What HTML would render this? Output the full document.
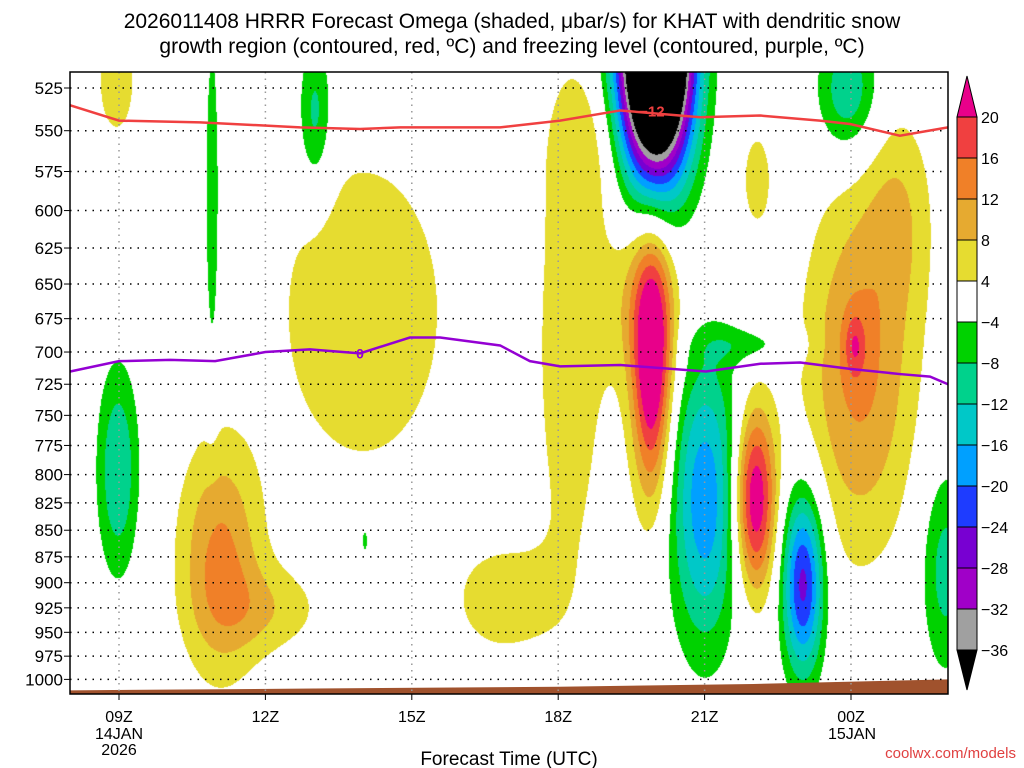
<!DOCTYPE html>
<html><head><meta charset="utf-8"><style>
body{margin:0;background:#fff;width:1024px;height:768px;overflow:hidden;font-family:"Liberation Sans",sans-serif;}
#wrap{position:relative;width:1024px;height:768px;}
canvas{position:absolute;left:70px;top:72px;}
svg{position:absolute;left:0;top:0;}
</style></head><body>
<div id="wrap">
<canvas id="cv" width="878" height="622"></canvas>
<svg id="sv" width="1024" height="768"></svg>
</div>
<script>
// ---- data ----
const pressureTicks=[525,550,575,600,625,650,675,700,725,750,775,800,825,850,875,900,925,950,975,1000];
const timeTickHours=[0,3,6,9,12,15];
const timeTickLabels=["09Z","12Z","15Z","18Z","21Z","00Z"];
const levels=[-36,-32,-28,-24,-20,-16,-12,-8,-4,4,8,12,16,20];
const levelColors=["#000000","#a0a0a0","#a000c8","#7800d2","#1e3cff","#00a0ff","#00c8c8","#00d28c","#00d200","#ffffff","#e6dc30","#e6aa30","#f08028","#f04040","#e8008a"];
// omega blobs: center hour (from 09Z), center pressure (hPa), spread hours, spread ln(p), amplitude (microbar/s)
const blobHour=[-0.05,2.07,3.09,5.0,7.81,9.24,10.92,13.07,13.03,15.18,15.08,16.0,11.0,1.91,4.02,-0.02,5.04,12.01,14.02,14.94,16.93,12.93,10.8,9.6];
const blobP=[522,877,927,670,917,700,713,580,822,713,695,600,500,593,541,796,859,822,900,527,887,695,660,560];
const blobSH=[0.4,0.6,0.8,1.3,0.8,0.6,0.28,0.25,0.3,0.8,0.15,0.5,0.52,0.1,0.25,0.3,0.08,0.5,0.3,0.45,0.35,0.7,0.6,0.5];
const blobSL=[0.06,0.09,0.035,0.13,0.05,0.22,0.1,0.045,0.07,0.14,0.025,0.08,0.1,0.13,0.06,0.08,0.018,0.11,0.07,0.05,0.08,0.015,0.07,0.06];
const blobAmp=[5.5,13,6,7.9,6,6,25,6,25,13,8,6,-80,-8,-10,-12,-6,-19,-26,-12,-10,-6,8,5];
const redHours=[-1.0,0,1.66,3.71,4.94,5.76,7.81,9.04,10.27,11.91,13.14,14.36,14.98,16.0,16.99];
const redP=[535,544,545,548,549,548,548,544,538,542,541,544,546,553,548];
const purHours=[-1,0,1.05,1.97,3.0,3.91,4.94,5.96,6.58,7.81,8.42,9.04,10.27,12.03,13.14,13.96,14.98,16.0,16.62,16.99];
const purP=[715,707,706,707,700,698,701,689,689,695,707,711,710,715,709,708,713,717,719,725];
const groundHours=[-1.0,4,9,13,17];
const groundP=[1012,1010,1008,1005,1000];
// ---- axes ----
const X0=70,X1=948,Y0=72,Y1=694;
const xOf=h=>119+48.8*h;
const yOf=p=>88+917.8*(Math.log(p)-Math.log(525));
const hOfX=x=>(x-119)/48.8;
const lnpOfY=y=>(y-88)/917.8+Math.log(525);
function hex(c){return [parseInt(c.substr(1,2),16),parseInt(c.substr(3,2),16),parseInt(c.substr(5,2),16)];}
const rgb=levelColors.map(hex);
const cv=document.getElementById('cv');const ctx=cv.getContext('2d');
const W=878,H=622;const img=ctx.createImageData(W,H);
const bl=blobP.map(Math.log);
for(let j=0;j<H;j++){const lp=lnpOfY(Y0+j+0.5);
 for(let i=0;i<W;i++){const h=hOfX(X0+i+0.5);let v=0;
  for(let k=0;k<blobAmp.length;k++){const dx=(h-blobHour[k])/blobSH[k],dy=(lp-bl[k])/blobSL[k];const e=(dx*dx+dy*dy)/2;if(e<12)v+=blobAmp[k]*Math.exp(-e);}
  let idx=0;while(idx<levels.length&&v>=levels[idx])idx++;
  const c=rgb[idx];const o=(j*W+i)*4;img.data[o]=c[0];img.data[o+1]=c[1];img.data[o+2]=c[2];img.data[o+3]=255;}}
ctx.putImageData(img,0,0);
const NS="http://www.w3.org/2000/svg";const sv=document.getElementById('sv');
function mk(t,a,p){const e=document.createElementNS(NS,t);for(const k in a)e.setAttribute(k,a[k]);(p||sv).appendChild(e);return e;}
// ground
let gp=`M${X0},${Y1}`;groundHours.forEach((h,i)=>{gp+=` L${Math.max(X0,Math.min(X1,xOf(h)))},${Math.min(Y1,yOf(groundP[i]))}`;});gp+=` L${X1},${Y1} Z`;
const g=mk('path',{d:gp,fill:'#a0522d'});


// grid
pressureTicks.forEach(p=>{const y=yOf(p);
 const l=mk('line',{x1:X0,x2:X1,y1:y,y2:y,stroke:'#000','stroke-width':1.5,'stroke-dasharray':'1.5 6'});
 
 
 mk('line',{x1:X0-6,x2:X0,y1:y,y2:y,stroke:'#000'});
 const t=mk('text',{x:X0-7,y:y+6,'text-anchor':'end','font-size':17,fill:'#000'});t.textContent=p;
 
 });
timeTickHours.forEach((h,i)=>{const x=xOf(h);
 const l=mk('line',{x1:x,x2:x,y1:Y0,y2:Y1,stroke:'#999','stroke-width':1.5,'stroke-dasharray':'1.5 5'});
 
 
 mk('line',{x1:x,x2:x,y1:Y1,y2:Y1+6,stroke:'#000'});
 const t=mk('text',{x:x,y:722,'text-anchor':'middle','font-size':16,fill:'#000'});t.textContent=timeTickLabels[i];
 
 });
[["14JAN",119,739],["2026",119,755],["15JAN",852,739]].forEach(a=>{const t=mk('text',{x:a[1],y:a[2],'text-anchor':'middle','font-size':16});t.textContent=a[0];
 
 });
// lines
function line(hs,ps,col,name){let d='';hs.forEach((h,i)=>{d+=(i?' L':'M')+Math.max(X0,Math.min(X1,xOf(h)))+','+yOf(ps[i]);});
 const e=mk('path',{d:d,fill:'none',stroke:col,'stroke-width':2.5});
 
 }
line(redHours,redP,'#f04040','dgz-minus12-contour');
line(purHours,purP,'#9400d3','freezing-level-contour');
const rl=mk('text',{x:xOf(10.92),y:yOf(538)+6,'text-anchor':'middle','font-size':15,'font-weight':'bold',fill:'#f04040'});rl.textContent='−12';


const pl=mk('text',{x:xOf(4.94),y:yOf(701)+5,'text-anchor':'middle','font-size':14,'font-weight':'bold',fill:'#9400d3'});pl.textContent='0';


const fr=mk('rect',{x:X0,y:Y0,width:X1-X0,height:Y1-Y0,fill:'none',stroke:'#000','stroke-width':1.5});


// colorbar
const CBX=957,CBW=20,CBT=117,CBS=41;
const tri=mk('path',{d:`M${CBX},${CBT} L${CBX+CBW/2},76 L${CBX+CBW},${CBT} Z`,fill:levelColors[14],stroke:'#000'});


for(let k=0;k<13;k++){const r=mk('rect',{x:CBX,y:CBT+k*CBS,width:CBW,height:CBS,fill:levelColors[13-k],stroke:'#000'});
 
 }
const tb=mk('path',{d:`M${CBX},${CBT+13*CBS} L${CBX+CBW/2},690 L${CBX+CBW},${CBT+13*CBS} Z`,fill:'#000',stroke:'#000'});


const cbl=[20,16,12,8,4,-4,-8,-12,-16,-20,-24,-28,-32,-36];
cbl.forEach((v,k)=>{const t=mk('text',{x:CBX+CBW+4,y:CBT+k*CBS+6,'font-size':16});t.textContent=v<0?'−'+(-v):v;
 
 });
// titles
[["2026011408 HRRR Forecast Omega (shaded, μbar/s) for KHAT with dendritic snow",28],["growth region (contoured, red, ºC) and freezing level (contoured, purple, ºC)",53]].forEach(a=>{
 const t=mk('text',{x:512,y:a[1],'text-anchor':'middle','font-size':21});t.textContent=a[0];
 
 });
const xt=mk('text',{x:509,y:765,'text-anchor':'middle','font-size':19});xt.textContent='Forecast Time (UTC)';


const cr=mk('text',{x:1016,y:758,'text-anchor':'end','font-size':15,fill:'#e04040'});cr.textContent='coolwx.com/models';


</script>
</body></html>
